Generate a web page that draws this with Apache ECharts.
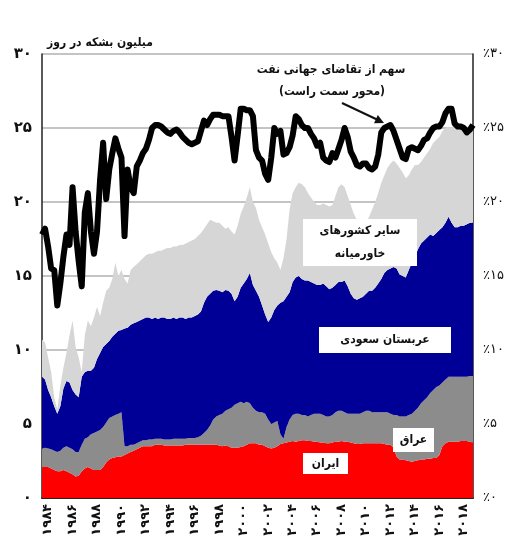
<!DOCTYPE html>
<html lang="fa">
<head>
  <meta charset="UTF-8">
  <title>خاورمیانه</title>
  <style>
    * { margin: 0; padding: 0; }
    body { background: #fff; }
    #main { width: 513px; height: 555px; }
  </style>
</head>
<body>
  <div id="main"></div>
  <script src="https://cdn.jsdelivr.net/npm/echarts/dist/echarts.min.js"></script>
  <script>
    // quarterly points, 1983 Q3 .. 2018 Q4 (million barrels per day)
    var quarters = [];
    for (var y = 1983; y <= 2018; y++) {
      for (var q = 1; q <= 4; q++) {
        if (y === 1983 && q < 3) continue;
        quarters.push(y + '-Q' + q);
      }
    }

    var iran = [
      2.1, 2.1,
      2.1, 2.0, 1.9, 1.8,   1.8, 1.9, 1.8, 1.7,   1.6, 1.45, 1.5, 1.8,   2.0, 2.1, 2.0, 1.9,
      1.9, 1.9, 2.1, 2.4,   2.6, 2.7, 2.75, 2.8,  2.8, 2.9, 3.0, 3.1,   3.2, 3.3, 3.4, 3.5,
      3.5, 3.5, 3.5, 3.6,   3.6, 3.6, 3.55, 3.55, 3.55, 3.55, 3.55, 3.55, 3.55, 3.6, 3.6, 3.6,
      3.6, 3.6, 3.6, 3.6,   3.6, 3.6, 3.6, 3.6,   3.55, 3.5, 3.55, 3.5, 3.4, 3.4, 3.4, 3.45,
      3.5, 3.6, 3.7, 3.7,   3.7, 3.6, 3.6, 3.5,   3.4, 3.35, 3.4, 3.5,  3.65, 3.7, 3.75, 3.8,
      3.85, 3.8, 3.85, 3.9, 3.9, 3.85, 3.85, 3.8, 3.8, 3.75, 3.75, 3.7, 3.7, 3.75, 3.8, 3.8,
      3.85, 3.8, 3.8, 3.75, 3.7, 3.65, 3.65, 3.7, 3.7, 3.7, 3.7, 3.7,   3.7, 3.7, 3.65, 3.6,
      3.6, 3.4, 2.8, 2.6,   2.6, 2.55, 2.5, 2.45, 2.5, 2.55, 2.6, 2.6,  2.65, 2.65, 2.7, 2.7,
      2.9, 3.5, 3.7, 3.8,   3.8, 3.8, 3.8, 3.85,  3.85, 3.85, 3.8, 3.75
    ];
    var iraq = [
      1.25, 1.3,
      1.25, 1.3, 1.3, 1.3,  1.4, 1.5, 1.7, 1.7,   1.7, 1.65, 1.6, 1.8,   2.0, 2.0, 2.3, 2.5,
      2.6, 2.7, 2.7, 2.7,   2.8, 2.8, 2.85, 2.9,  3.0, 0.6, 0.5, 0.5,   0.4, 0.4, 0.4, 0.4,
      0.4, 0.45, 0.45, 0.4, 0.4, 0.4, 0.4, 0.4,   0.4, 0.45, 0.45, 0.45, 0.45, 0.4, 0.45, 0.45,
      0.45, 0.5, 0.6, 0.8,  1.0, 1.3, 1.7, 1.9,   2.05, 2.2, 2.35, 2.5, 2.7, 2.9, 3.0, 3.05,
      2.9, 2.9, 2.7, 2.4,   2.2, 2.2, 2.2, 2.2,   1.9, 1.65, 1.7, 1.7,  0.65, 0.3, 1.05, 1.5,
      1.75, 1.9, 1.85, 1.7, 1.7, 1.65, 1.75, 1.9, 1.9, 1.95, 1.85, 1.8, 1.8, 1.85, 2.0, 2.1,
      2.05, 2.0, 1.9, 1.95, 2.0, 2.05, 2.05, 2.1, 2.2, 2.2, 2.1, 2.1,   2.1, 2.1, 2.15, 2.2,
      2.1, 2.2, 2.8, 2.9,   2.9, 2.95, 3.1, 3.25, 3.4, 3.55, 3.8, 4.0,  4.15, 4.45, 4.6, 4.8,
      4.7, 4.3, 4.3, 4.4,   4.4, 4.4, 4.4, 4.35,  4.35, 4.35, 4.45, 4.5
    ];
    var saudi = [
      4.85, 4.6,
      3.95, 3.5, 3.0, 2.6,  3.0, 4.0, 4.4, 4.4,   4.0, 3.9, 3.7, 4.6,    4.5, 4.5, 4.3, 4.4,
      4.9, 5.2, 5.4, 5.3,   5.2, 5.4, 5.5, 5.6,   5.55, 7.95, 8.0, 8.1,  8.2, 8.2, 8.2, 8.2,
      8.3, 8.25, 8.15, 8.2, 8.1, 8.2, 8.25, 8.15, 8.15, 8.2, 8.1, 8.2,   8.2, 8.1, 8.15, 8.15,
      8.25, 8.3, 8.4, 8.8,  9.0, 8.9, 8.7, 8.55,  8.4, 8.2, 8.15, 8.0,   7.7, 7.0, 7.2, 7.7,
      8.1, 8.3, 8.8, 8.3,   8.1, 7.8, 7.2, 6.7,   6.6, 7.2, 7.6, 7.8,    8.9, 9.3, 8.8, 8.6,
      9.0, 9.2, 9.3, 9.2,   9.1, 9.2, 9.0, 8.8,   8.7, 8.7, 8.9, 8.8,    8.6, 8.6, 8.6, 8.7,
      8.7, 8.9, 8.6, 8.1,   7.8, 7.7, 7.8, 7.8,   7.9, 8.1, 8.2, 8.4,    8.7, 9.0, 9.4, 9.6,
      9.8, 10.0, 9.9, 9.6,  9.5, 9.4, 9.8, 10.2,  10.4, 10.7, 10.8, 10.8, 10.8, 10.7, 10.4, 10.4,
      10.5, 10.5, 10.6, 10.8, 10.4, 10.1, 10.1, 10.2, 10.2, 10.3, 10.35, 10.35
    ];
    var others = [
      2.5, 2.5,
      2.2, 1.7, 0.6, 0.3,   1.4, 1.4, 1.9, 3.2,   4.7, 3.2, 2.7, 0.3,   2.5, 3.4, 3.0, 3.4,
      3.5, 2.5, 3.0, 3.6,   3.6, 3.9, 4.8, 3.7,   4.05, 3.35, 3.0, 3.7, 3.8, 3.9, 4.0, 4.1,
      4.2, 4.3, 4.4, 4.4,   4.6, 4.5, 4.6, 4.8,   4.8, 4.8, 4.9, 4.9,   4.9, 5.1, 5.1, 5.2,
      5.2, 5.3, 5.3, 5.0,   4.9, 5.0, 4.7, 4.55,  4.6, 4.5, 4.15, 4.3,  4.2, 4.5, 4.8, 5.0,
      5.2, 5.5, 5.8, 5.6,   5.6, 5.2, 5.3, 5.4,   5.3, 4.4, 3.5, 2.9,   2.2, 2.9, 3.9, 5.6,
      6.0, 6.1, 6.3, 6.4,   6.3, 5.9, 5.7, 5.5,   5.4, 5.4, 5.4, 5.5,   5.6, 5.6, 6.0, 6.4,
      6.6, 6.3, 6.1, 6.0,   5.7, 5.4, 5.1, 4.8,   4.8, 5.0, 5.5, 5.8,   6.1, 6.5, 6.6, 6.9,
      7.1, 7.2, 7.1, 7.2,   7.0, 6.7, 6.4, 6.3,   6.2, 5.7, 5.5, 5.6,   5.7, 5.8, 6.3, 6.3,
      6.3, 6.5, 6.4, 6.1,   6.4, 7.0, 6.7, 6.5,   6.5, 6.5, 6.4, 6.4
    ];
    // share of world oil demand, % (right axis)
    var share = [
      17.8, 18.2,
      17.0, 15.5, 15.4, 13.0, 14.5, 16.3, 17.8, 17.1, 21.0, 18.0, 16.0, 14.3, 19.3, 20.6, 18.0, 16.5,
      18.0, 21.5, 24.0, 20.2, 22.2, 23.3, 24.3, 23.6, 23.0, 17.7, 22.2, 21.0, 20.6, 22.4, 22.8, 23.3,
      23.6, 24.2, 25.0, 25.2, 25.2, 25.1, 24.9, 24.7, 24.6, 24.8, 24.9, 24.7, 24.4, 24.2, 24.0, 23.9,
      24.0, 24.1, 24.8, 25.5, 25.2, 25.6, 25.9, 25.9, 25.9, 25.8, 25.8, 25.8, 24.4, 22.8, 24.5, 26.3,
      26.3, 26.2, 26.2, 25.8, 23.5, 23.0, 22.8, 21.9, 21.5, 23.0, 25.0, 24.6, 24.8, 23.2, 23.3, 23.7,
      24.5, 25.8, 25.6, 25.2, 25.0, 25.0, 24.6, 24.3, 23.8, 24.0, 23.0, 22.8, 22.7, 23.3, 23.0, 23.6,
      24.2, 25.0, 24.4, 23.4, 23.0, 22.5, 22.4, 22.6, 22.6, 22.3, 22.2, 22.4, 23.2, 24.7, 25.0, 25.1,
      25.2, 24.8, 24.2, 23.6, 23.0, 22.9, 23.6, 23.7, 23.6, 23.5, 23.8, 24.2, 24.3, 24.7, 25.0, 25.1,
      25.1, 25.4, 26.0, 26.3, 26.3, 25.3, 25.1, 25.1, 25.0, 24.7, 24.9, 25.2
    ];

    var FONT = '"DejaVu Sans", "Noto Sans", sans-serif';
    var NOTE_FONT = 'bold 12px "DejaVu Sans Condensed", "DejaVu Sans", sans-serif';

    // اعداد فارسی
    function fa(n) {
      return String(n).replace(/\d/g, function (d) { return '۰۱۲۳۴۵۶۷۸۹'[d]; });
    }

    function areaSeries(name, data, color) {
      return {
        name: name,
        type: 'line',
        stack: 'prod',
        data: data,
        symbol: 'none',
        smooth: false,
        lineStyle: { width: 0 },
        areaStyle: { color: color, opacity: 1 },
        z: 2
      };
    }

    function box(x, y, w, h, lines, lh) {
      var els = [{
        type: 'rect', z: 100,
        shape: { x: x, y: y, width: w, height: h },
        style: { fill: '#fff' }
      }];
      lines.forEach(function (t, i) {
        els.push({
          type: 'text', z: 101,
          x: x + w / 2,
          y: y + h / 2 + (i - (lines.length - 1) / 2) * lh,
          style: {
            text: t, fill: '#111', font: NOTE_FONT,
            align: 'center', verticalAlign: 'middle'
          }
        });
      });
      return els;
    }

    var myChart = echarts.init(document.getElementById('main'));

    var option = {
      animation: false,
      backgroundColor: '#fff',
      grid: { left: 42, right: 40, top: 54, bottom: 57 },
      xAxis: {
        type: 'category',
        data: quarters,
        boundaryGap: false,
        axisTick: { show: false },
        axisLine: { lineStyle: { color: '#222', width: 2 } },
        splitLine: { show: false },
        axisLabel: {
          rotate: 90,
          margin: 6,
          color: '#111',
          fontSize: 13,
          fontWeight: 'bold',
          fontFamily: FONT,
          interval: function (index, value) {
            var yr = +value.slice(0, 4);
            return value.slice(5) === 'Q1' && yr % 2 === 0;
          },
          formatter: function (value) { return fa(value.slice(0, 4)); }
        }
      },
      yAxis: [{
        type: 'value',
        min: 0, max: 30, interval: 5,
        axisLine: { show: true, lineStyle: { color: '#222', width: 1.5 } },
        axisTick: { show: false },
        splitLine: { lineStyle: { color: '#c4c4c4', width: 2 } },
        axisLabel: {
          margin: 10, color: '#111', fontSize: 15, fontWeight: 'bold', fontFamily: FONT,
          formatter: function (v) { return fa(v); }
        }
      }, {
        type: 'value',
        min: 0, max: 30, interval: 5,
        position: 'right',
        axisLine: { show: true, lineStyle: { color: '#222', width: 1.5 } },
        axisTick: { show: false },
        splitLine: { show: false },
        axisLabel: {
          margin: 10, color: '#111', fontSize: 13, fontFamily: FONT,
          formatter: function (v) { return '٪' + fa(v); }
        }
      }],
      series: [
        areaSeries('ایران', iran, '#ff0000'),
        areaSeries('عراق', iraq, '#8c8c8c'),
        areaSeries('عربستان سعودی', saudi, '#000096'),
        areaSeries('سایر کشورهای خاورمیانه', others, '#d6d6d6'),
        {
          name: 'سهم از تقاضای جهانی نفت',
          type: 'line',
          yAxisIndex: 1,
          data: share,
          symbol: 'none',
          lineStyle: { color: '#000', width: 6, join: 'round' },
          z: 5
        }
      ],
      graphic: [
        {
          type: 'text', z: 100, left: 47, top: 37,
          style: { text: 'میلیون بشکه در روز', fill: '#111', font: NOTE_FONT }
        },
        {
          type: 'text', z: 100, x: 331, y: 70,
          style: { text: 'سهم از تقاضای جهانی نفت', fill: '#111', font: NOTE_FONT,
                   align: 'center', verticalAlign: 'middle' }
        },
        {
          type: 'text', z: 100, x: 332, y: 92,
          style: { text: '(محور سمت راست)', fill: '#111', font: NOTE_FONT,
                   align: 'center', verticalAlign: 'middle' }
        },
        {
          type: 'line', z: 100,
          shape: { x1: 342, y1: 103, x2: 377, y2: 119.5 },
          style: { stroke: '#111', lineWidth: 2 }
        },
        {
          type: 'polygon', z: 100,
          shape: { points: [[384, 123], [374, 123.2], [377.8, 115]] },
          style: { fill: '#111' }
        }
      ]
        .concat(box(303, 219, 114, 47, ['سایر کشورهای', 'خاورمیانه'], 23))
        .concat(box(319, 327, 132, 26, ['عربستان سعودی'], 0))
        .concat(box(393, 428, 41, 24, ['عراق'], 0))
        .concat(box(303, 453, 45, 21, ['ایران'], 0))
    };

    myChart.setOption(option);
  </script>
</body>
</html>
